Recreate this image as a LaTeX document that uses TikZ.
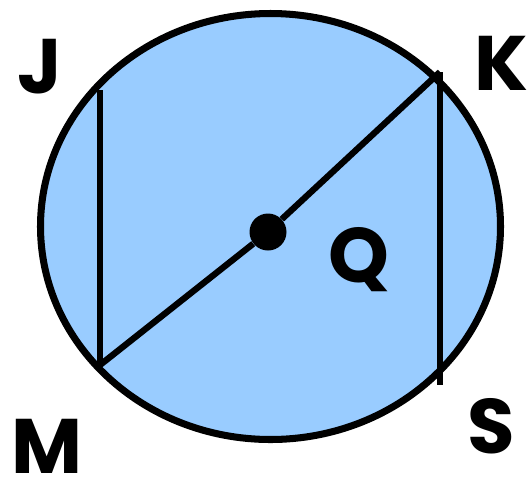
\documentclass[tikz,border=0pt]{standalone}
\usepackage{fontspec}
\setmainfont{Poppins}
\usepackage{xcolor}
\usetikzlibrary{positioning,calc}
\definecolor{diskblue}{RGB}{153,204,255}

\begin{document}
\begin{tikzpicture}[x=0.02cm,y=-0.02cm,
  lbl/.style={font=\fontsize{44}{44}\selectfont\bfseries,inner sep=0pt},
  rim/.style={draw=black,line width=4pt,fill=diskblue},
  chord/.style={line width=3.6pt,line cap=butt}]
\useasboundingbox (0,0) rectangle (527,491);
\draw[rim] (270.5,226.5) ellipse [x radius=230,y radius=213];
\coordinate (j) at (100,90);
\coordinate (m) at (100,365);
\coordinate (k) at (440,72);
\coordinate (s) at (440,385);
\node[circle,fill=black,inner sep=0pt,minimum size=0.74cm] (q) at (268,232) {};
\draw[chord] (j)--(m);
\draw[chord] (k)--(s);
\draw[chord] (m)--(q)--(k);
\node[lbl] (lj) at (40,67) {J};
\node[lbl] (lk) at (501,63) {K};
\node[lbl] (lm) at (47,446) {M};
\node[lbl] (lq) at (359,260) {Q};
\node[lbl] (ls) at (491,426) {S};
\end{tikzpicture}
\end{document}
